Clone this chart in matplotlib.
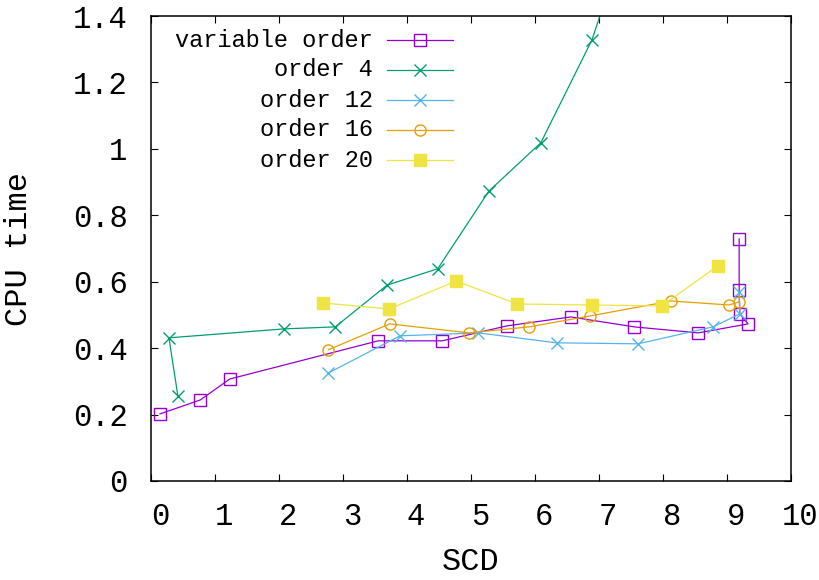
import matplotlib
matplotlib.use("Agg")
import matplotlib.pyplot as plt
import matplotlib.transforms as mtransforms
from matplotlib.lines import Line2D

plt.rcParams['font.family'] = ['Liberation Mono', 'DejaVu Sans Mono']

# CPU time vs SCD for each ordering strategy
var_x = [0.14, 0.77, 1.23, 3.55, 4.55, 5.56, 6.56, 7.55, 8.55, 9.33, 9.20, 9.19, 9.19]
var_y = [0.202, 0.244, 0.307, 0.422, 0.422, 0.467, 0.494, 0.464, 0.446, 0.473, 0.503, 0.575, 0.729]

o4_x = [0.42, 0.28, 2.08, 2.88, 3.69, 4.48, 5.28, 6.09, 6.89, 7.70]
o4_y = [0.256, 0.431, 0.458, 0.464, 0.590, 0.639, 0.873, 1.018, 1.328, 1.800]

o12_x = [2.77, 3.89, 5.11, 6.34, 7.61, 8.78, 9.20, 9.19]
o12_y = [0.325, 0.437, 0.446, 0.416, 0.413, 0.464, 0.503, 0.569]

o16_x = [2.77, 3.73, 4.97, 5.91, 6.86, 8.13, 9.03, 9.19]
o16_y = [0.395, 0.473, 0.446, 0.464, 0.497, 0.542, 0.530, 0.539]

o20_x = [2.69, 3.72, 4.77, 5.72, 6.89, 7.98, 8.86]
o20_y = [0.536, 0.518, 0.602, 0.533, 0.530, 0.527, 0.648]

labels = ["variable order", "order 4", "order 12", "order 16", "order 20"]
xs = [var_x, o4_x, o12_x, o16_x, o20_x]
ys = [var_y, o4_y, o12_y, o16_y, o20_y]
colors = ["#9400d3", "#009e73", "#56b4e9", "#e69f00", "#f0e442"]
markers = ["s", "x", "x", "o", "s"]
filled = [False, False, False, False, True]
msizes = [8, 9, 9, 8, 8.5]

fig = plt.figure(figsize=(8.2, 5.8), dpi=100)
ax = fig.add_axes([151 / 820, 99 / 580, 640 / 820, 465 / 580])

for x, y, c, m, f, ms in zip(xs, ys, colors, markers, filled, msizes):
    ax.plot(x, y, color=c, lw=0.9, marker=m, ms=ms, mew=1.0,
            mfc=c if f else "none", mec=c)

# key drawn gnuplot style: right-aligned text, sample line after it
row_y = [0.948, 0.884, 0.819, 0.755, 0.690]
for lab, c, m, f, ms, yy in zip(labels, colors, markers, filled, msizes, row_y):
    ax.text(0.347, yy, lab, transform=ax.transAxes, ha="right", va="center",
            fontsize=17)
    ax.add_line(Line2D([0.369, 0.472], [yy, yy], transform=ax.transAxes,
                       color=c, lw=0.9))
    ax.add_line(Line2D([0.42], [yy], transform=ax.transAxes, color=c,
                       marker=m, ms=ms, mew=1.0, mfc=c if f else "none", mec=c))

ax.set_xlim(0, 10)
ax.set_ylim(0, 1.4)
ax.set_xticks(range(0, 11))
ax.set_yticks([0, 0.2, 0.4, 0.6, 0.8, 1.0, 1.2, 1.4])
ax.set_yticklabels(["0", "0.2", "0.4", "0.6", "0.8", "1", "1.2", "1.4"])
ax.tick_params(direction="in", length=5, width=0.8, top=True, right=True,
               labelsize=22, colors="black")
ax.tick_params(axis="x", pad=15)
ax.tick_params(axis="y", pad=17)
for lab in ax.get_xticklabels():
    lab.set_transform(lab.get_transform() +
                      mtransforms.ScaledTranslation(9 / 100, 0, fig.dpi_scale_trans))
for sp in ax.spines.values():
    sp.set_linewidth(1.1)

ax.set_xlabel("SCD", fontsize=23)
ax.set_ylabel("CPU time", fontsize=23)
ax.xaxis.set_label_coords(0.5, -0.143)
ax.yaxis.set_label_coords(-0.183, 0.5)

fig.savefig("out.png", dpi=100)
